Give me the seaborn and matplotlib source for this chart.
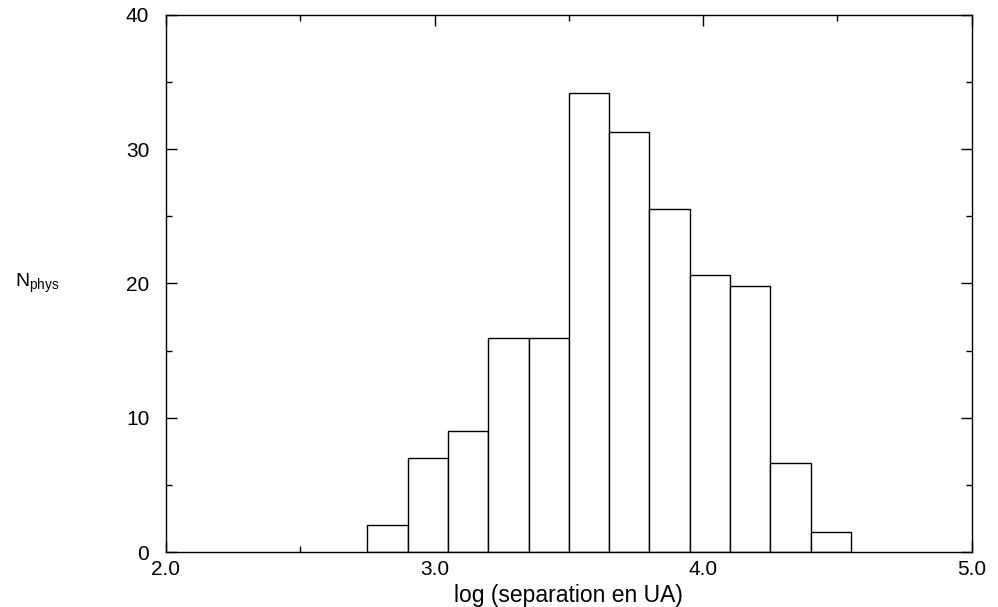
import matplotlib
matplotlib.use("Agg")
import matplotlib.pyplot as plt
from matplotlib.ticker import MultipleLocator, FormatStrFormatter
import seaborn as sns

# Data
bin_centers = [2.825, 2.975, 3.125, 3.275, 3.425, 3.575, 3.725, 3.875, 4.025, 4.175, 4.325, 4.475]
counts = [2.0, 7.0, 9.0, 15.9, 15.9, 34.2, 31.3, 25.5, 20.6, 19.8, 6.6, 1.5]
bin_width = 0.15
bin_range = (2.75, 4.55)
x_ticks = [2.0, 3.0, 4.0, 5.0]
y_ticks = [0, 10, 20, 30, 40]

sns.set_theme(style="white")
plt.rcParams['font.family'] = ['Liberation Sans', 'DejaVu Sans']
plt.rcParams['mathtext.fontset'] = 'custom'
plt.rcParams['mathtext.rm'] = 'Liberation Sans'
plt.rcParams['text.color'] = 'black'
plt.rcParams['axes.labelcolor'] = 'black'

fig = plt.figure(figsize=(9.98, 6.07), dpi=100)
ax = fig.add_axes([0.1663, 0.0906, 0.8074, 0.8852])

sns.histplot(x=bin_centers, weights=counts, binwidth=bin_width, binrange=bin_range,
             color="white", edgecolor="black", linewidth=1.0, alpha=1.0, ax=ax)

ax.set_xlim(2.0, 5.0)
ax.set_ylim(0, 40)
ax.set_xticks(x_ticks)
ax.set_yticks(y_ticks)
ax.xaxis.set_major_formatter(FormatStrFormatter('%.1f'))
ax.xaxis.set_minor_locator(MultipleLocator(0.5))
ax.yaxis.set_minor_locator(MultipleLocator(5))

for s in ax.spines.values():
    s.set_color("black")
    s.set_linewidth(1.0)

ax.tick_params(which='both', direction='in', top=True, right=True, bottom=True, left=True,
               colors='black', width=1.0)
ax.tick_params(which='major', length=8)
ax.tick_params(which='minor', length=4.5)
ax.tick_params(axis='x', which='major', labelsize=15, pad=6)
ax.tick_params(axis='y', which='major', labelsize=15, pad=12)

ax.set_xlabel("log (separation en UA)", fontsize=16.5, labelpad=3, color='black')
ax.set_ylabel(r"$\mathrm{N}_{\mathrm{phys}}$", fontsize=14, rotation=0, ha='center', va='center',
              color='black')
ax.yaxis.set_label_coords(-0.16, 0.5)
ax.grid(False)

fig.savefig("out.png", dpi=100, facecolor="white")
